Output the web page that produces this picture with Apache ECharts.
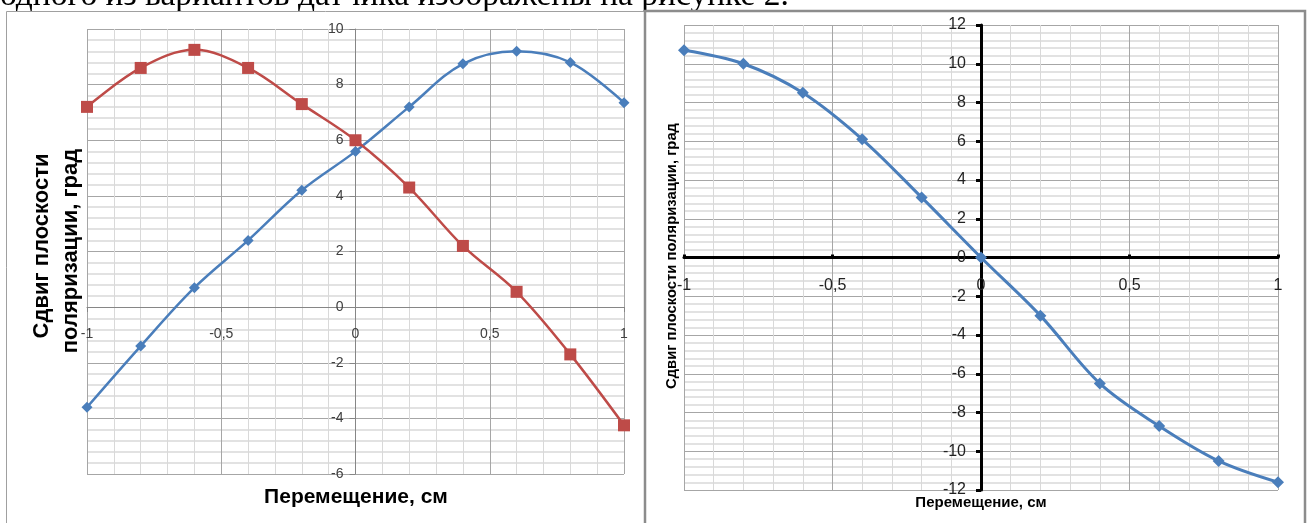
<!DOCTYPE html>
<html><head><meta charset="utf-8">
<script src="https://cdn.jsdelivr.net/npm/echarts@6/dist/echarts.min.js"></script>
<style>html,body{margin:0;padding:0;background:#fff}#c{width:1308px;height:523px}</style>
</head><body><div id="c"></div>
<script>
// ---- data ----
const xPositions = [-1, -0.8, -0.6, -0.4, -0.2, 0, 0.2, 0.4, 0.6, 0.8, 1];
const leftBlue = [-3.6, -1.4, 0.7, 2.4, 4.2, 5.6, 7.2, 8.75, 9.2, 8.8, 7.35];
const leftRed = [7.2, 8.6, 9.25, 8.6, 7.3, 6.0, 4.3, 2.2, 0.55, -1.7, -4.25];
const rightBlue = [10.7, 10.0, 8.5, 6.1, 3.1, 0, -3.0, -6.5, -8.7, -10.5, -11.6];
const yTitle = 'Сдвиг плоскости поляризации, град';
const yTitleLines = ['Сдвиг плоскости', 'поляризации, град'];
const xTitle = 'Перемещение, см';
const captionText = 'одного из вариантов датчика изображены на рисунке 2.';

const pairs = (xs, ys) => xs.map((x, i) => [x, ys[i]]);
const fmt = v => String(v).replace('.', ',');

const chart = echarts.init(document.getElementById('c'), null, {renderer: 'canvas'});
const gridMajor = '#a6a6a6', gridMinor = '#d9d9d9';
const BLUE = '#4A7EBB', RED = '#BE4B48';
const font = 'Liberation Sans';

function xAxisCfg(gi, big, offset) {
  return {
    type: 'value', gridIndex: gi, min: -1, max: 1, interval: 0.5, position: 'bottom', offset: offset,
    axisLine: {onZero: false, lineStyle: {color: big ? '#000' : '#868686', width: big ? 3 : 1}},
    axisTick: {show: true, length: big ? 3 : 5, inside: !!big, lineStyle: {color: big ? '#000' : '#868686', width: big ? 3 : 1}},
    axisLabel: {formatter: fmt, color: big ? '#222' : '#404040', fontSize: big ? 16 : 14, fontFamily: font, margin: big ? 20 : 20},
    splitLine: {show: true, lineStyle: {color: gridMajor, width: 1}},
    minorTick: {show: false, splitNumber: 5},
    minorSplitLine: {show: true, lineStyle: {color: gridMinor, width: 1}}
  };
}
function yAxisCfg(gi, big, min, max, offset) {
  return {
    type: 'value', gridIndex: gi, min: min, max: max, interval: 2, position: 'left', offset: offset,
    axisLine: {show: true, onZero: false, lineStyle: {color: big ? '#000' : '#868686', width: big ? 3 : 1}},
    axisTick: {show: true, length: big ? 5 : 6, lineStyle: {color: big ? '#000' : '#868686', width: big ? 3 : 1}},
    axisLabel: {formatter: fmt, color: big ? '#222' : '#404040', fontSize: big ? 16 : 14, fontFamily: font, margin: big ? 15 : 12},
    splitLine: {show: true, lineStyle: {color: gridMajor, width: 1}},
    minorTick: {show: false, splitNumber: 5},
    minorSplitLine: {show: true, lineStyle: {color: gridMinor, width: 1.5}}
  };
}

const option = {
  backgroundColor: '#fff',
  animation: false,
  grid: [
    {left: 87, right: 684, top: 29, bottom: 49},
    {left: 684, right: 30, top: 25, bottom: 33}
  ],
  xAxis: [xAxisCfg(0, false, -167), xAxisCfg(1, true, -232.5)],
  yAxis: [yAxisCfg(0, false, -6, 10, -268.5), yAxisCfg(1, true, -12, 12, -297)],
  series: [
    {type: 'line', xAxisIndex: 0, yAxisIndex: 0, data: pairs(xPositions, leftBlue), smooth: 0.35,
     symbol: 'diamond', symbolSize: 11, lineStyle: {color: BLUE, width: 2.5}, itemStyle: {color: BLUE}},
    {type: 'line', xAxisIndex: 0, yAxisIndex: 0, data: pairs(xPositions, leftRed), smooth: 0.35,
     symbol: 'rect', symbolSize: 12, lineStyle: {color: RED, width: 2.5}, itemStyle: {color: RED}},
    {type: 'line', xAxisIndex: 1, yAxisIndex: 1, data: pairs(xPositions, rightBlue), smooth: 0.35,
     symbol: 'diamond', symbolSize: 12, lineStyle: {color: BLUE, width: 3}, itemStyle: {color: BLUE}}
  ],
  graphic: [
    {type: 'text', left: 0, top: -21, style: {text: captionText, font: '33.5px "Liberation Serif"', fill: '#000'}},
    {type: 'rect', shape: {x: 6.5, y: 11.5, width: 638, height: 520}, style: {fill: 'none', stroke: '#a0a0a0', lineWidth: 1}, z: 10},
    {type: 'rect', shape: {x: 645, y: 11, width: 660, height: 520}, style: {fill: 'none', stroke: '#8c8c8c', lineWidth: 2.5}, z: 10},
    // left y title (two lines)
    {type: 'text', x: 42, y: 246, rotation: Math.PI / 2, style: {text: yTitleLines[0], font: 'bold 22px "Liberation Sans"', fill: '#000', align: 'center', verticalAlign: 'middle'}},
    {type: 'text', x: 71, y: 251, rotation: Math.PI / 2, style: {text: yTitleLines[1], font: 'bold 22px "Liberation Sans"', fill: '#000', align: 'center', verticalAlign: 'middle'}},
    {type: 'text', x: 356, y: 497, style: {text: xTitle, font: 'bold 21px "Liberation Sans"', fill: '#000', align: 'center', verticalAlign: 'middle'}},
    // right titles
    {type: 'text', x: 672, y: 256, rotation: Math.PI / 2, style: {text: yTitle, font: 'bold 14.8px "Liberation Sans"', fill: '#000', align: 'center', verticalAlign: 'middle'}},
    {type: 'text', x: 981, y: 503, style: {text: xTitle, font: 'bold 15px "Liberation Sans"', fill: '#000', align: 'center', verticalAlign: 'middle'}}
  ]
};
chart.setOption(option);
</script></body></html>
